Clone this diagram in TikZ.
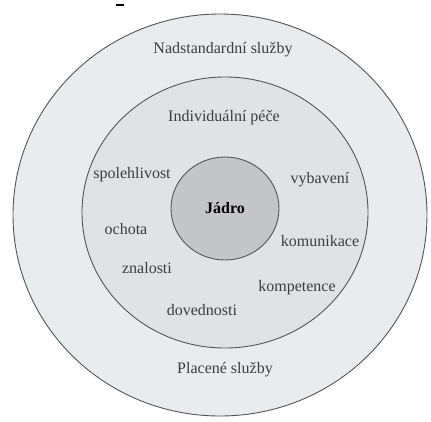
\documentclass[tikz,border=0pt]{standalone}
\usepackage{fontspec}
\setmainfont{Liberation Serif}
\usetikzlibrary{shapes.geometric}
\definecolor{ringline}{HTML}{555555}
\definecolor{outerfill}{HTML}{E9ECEF}
\definecolor{midfill}{HTML}{DFE3E6}
\definecolor{corefill}{HTML}{C3C5C8}
\definecolor{txt}{HTML}{3C3C3C}
\tikzset{
  ring/.style={ellipse, draw=ringline, line width=0.9pt, inner sep=0pt},
  lbl/.style={text=txt, font=\fontsize{16}{18}\selectfont, inner sep=0pt}
}
\begin{document}
\begin{tikzpicture}[x=1pt,y=-1pt]
\useasboundingbox[fill=white] (0,0) rectangle (431,421);
\node[ring, fill=outerfill, minimum width=414pt, minimum height=402pt] (outer) at (220,215) {};
\node[ring, fill=midfill, minimum width=286pt, minimum height=271pt] (middle) at (225,212.5) {};
\node[ring, fill=corefill, minimum width=108pt, minimum height=103pt, text=black, font=\fontsize{16}{18}\selectfont\bfseries] (core) at (225,208.5) {Jádro};
\coordinate (m1) at (116,5);
\coordinate (m2) at (124,5);
\draw[line width=1.2pt, black] (m1) -- (m2);
\node[lbl] (nad) at (223,50) {Nadstandardní služby};
\node[lbl] (ind) at (224,118) {Individuální péče};
\node[lbl] (spo) at (132,175) {spolehlivost};
\node[lbl] (vyb) at (320,180) {vybavení};
\node[lbl] (och) at (126,229) {ochota};
\node[lbl] (kom) at (320,241) {komunikace};
\node[lbl] (zna) at (147,268) {znalosti};
\node[lbl] (kmp) at (297,288) {kompetence};
\node[lbl] (dov) at (202,310) {dovednosti};
\node[lbl] (pla) at (225,370) {Placené služby};
\end{tikzpicture}
\end{document}
